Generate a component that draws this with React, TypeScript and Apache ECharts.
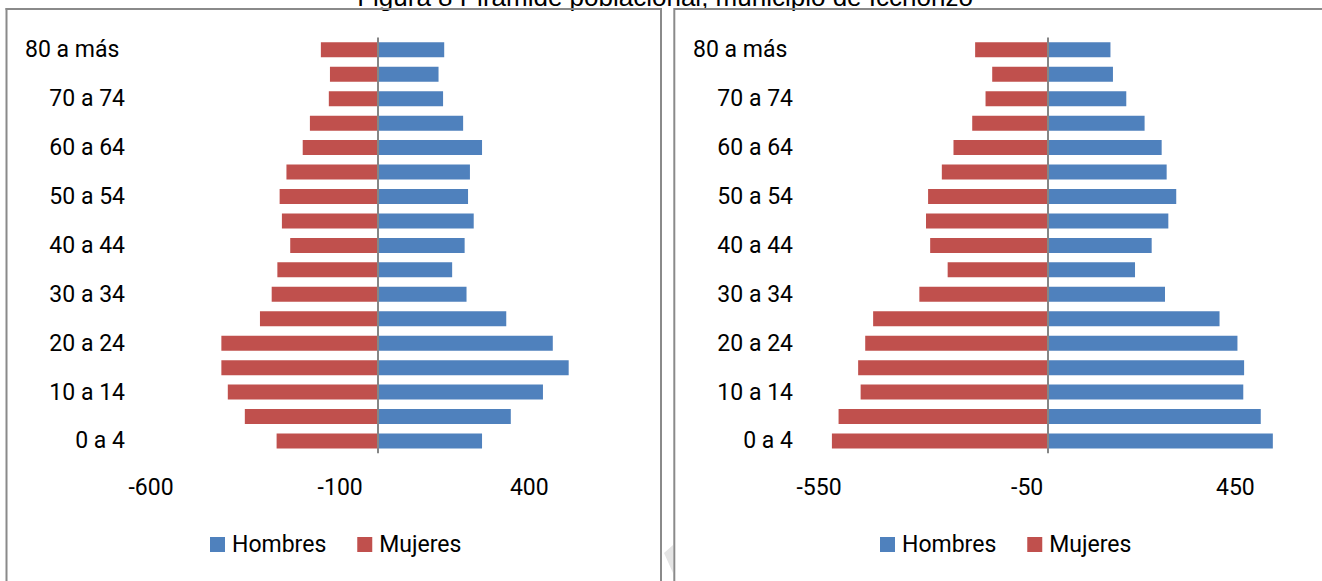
import React, { useEffect, useRef } from "react";
import * as echarts from "echarts";

const categories = [
  "0 a 4", "5 a 9", "10 a 14", "15 a 19", "20 a 24", "25 a 29", "30 a 34", "35 a 39",
  "40 a 44", "45 a 49", "50 a 54", "55 a 59", "60 a 64", "65 a 69", "70 a 74", "75 a 79", "80 a más",
];

// Left pyramid
const hombresLeft = [275, 351, 436, 504, 462, 339, 234, 196, 229, 253, 238, 243, 275, 225, 172, 160, 175];
const mujeresLeft = [268, 352, 397, 414, 414, 312, 281, 266, 232, 254, 260, 242, 199, 180, 130, 127, 151];

// Right pyramid
const hombresRight = [540, 511, 469, 471, 455, 412, 281, 209, 249, 289, 308, 285, 273, 232, 188, 156, 150];
const mujeresRight = [519, 503, 450, 456, 439, 420, 309, 241, 283, 293, 288, 255, 227, 182, 150, 134, 175];

const leftTicks = [-600, -100, 400];
const rightTicks = [-550, -50, 450];

const TITLE = "Figura 8 Pirámide poblacional, municipio de Icchonzo";

const BLUE = "#4F81BD";
const RED = "#C0504D";
const FONT = "Roboto";
const FS = 23;

export default function App() {
  const ref = useRef<HTMLDivElement>(null);

  useEffect(() => {
    document.body.style.margin = "0";
    if (!ref.current) return;
    const chart = echarts.init(ref.current, null, { renderer: "svg" });

    const catLabel = {
      fontFamily: FONT,
      fontSize: FS,
      color: "#000",
      margin: 26,
      interval: 1,
      formatter: (v: string) => (v === "80 a más" ? v + "\u00a0" : v),
    };

    const valueAxis = (min: number, max: number, interval: number, ticks: number[], gridIndex: number) => ({
      type: "value",
      gridIndex,
      min,
      max,
      interval,
      axisLine: { show: false },
      axisTick: { show: false },
      splitLine: { show: false },
      axisLabel: {
        fontFamily: FONT,
        fontSize: FS,
        color: "#000",
        margin: 23,
        formatter: (v: number) => (ticks.includes(v) ? String(v) : ""),
      },
    });

    const zeroLine = {
      silent: true,
      symbol: "none",
      label: { show: false },
      lineStyle: { color: "#868686", width: 2, type: "solid" },
      data: [{ xAxis: 0 }],
    };

    const barCommon = {
      type: "bar",
      barWidth: 15,
      barGap: "-100%",
    };

    const legendCommon = {
      icon: "rect",
      itemWidth: 15,
      itemHeight: 15,
      itemGap: 31,
      top: 528,
      data: ["Hombres", "Mujeres"],
      textStyle: { fontFamily: FONT, fontSize: FS, color: "#000", padding: [0, 0, 0, 2] },
    };

    chart.setOption({
      animation: false,
      backgroundColor: "#fff",
      grid: [
        { left: 151, width: 454, top: 37.6, height: 415.6 },
        { left: 819, width: 458, top: 37.6, height: 415.6 },
      ],
      xAxis: [
        valueAxis(-600, 600, 100, leftTicks, 0),
        valueAxis(-550, 550, 50, rightTicks, 1),
      ],
      yAxis: [
        {
          type: "category",
          gridIndex: 0,
          data: categories,
          axisLine: { show: false },
          axisTick: { show: false },
          axisLabel: catLabel,
        },
        {
          type: "category",
          gridIndex: 1,
          data: categories,
          axisLine: { show: false },
          axisTick: { show: false },
          axisLabel: catLabel,
        },
      ],
      legend: [
        { ...legendCommon, left: 205 },
        { ...legendCommon, left: 875 },
      ],
      series: [
        {
          ...barCommon,
          name: "Hombres",
          xAxisIndex: 0,
          yAxisIndex: 0,
          itemStyle: { color: BLUE },
          data: hombresLeft,
          markLine: zeroLine,
        },
        {
          ...barCommon,
          name: "Mujeres",
          xAxisIndex: 0,
          yAxisIndex: 0,
          itemStyle: { color: RED },
          data: mujeresLeft.map((v) => -v),
        },
        {
          ...barCommon,
          name: "Hombres",
          xAxisIndex: 1,
          yAxisIndex: 1,
          itemStyle: { color: BLUE },
          data: hombresRight,
          markLine: zeroLine,
        },
        {
          ...barCommon,
          name: "Mujeres",
          xAxisIndex: 1,
          yAxisIndex: 1,
          itemStyle: { color: RED },
          data: mujeresRight.map((v) => -v),
        },
      ],
      graphic: [
        {
          type: "text",
          x: 665,
          y: -3.5,
          style: {
            text: TITLE,
            fontFamily: "Liberation Sans",
            fontSize: 26,
            fill: "#000",
            textAlign: "center",
            textVerticalAlign: "middle",
          },
        },
        { type: "line", shape: { x1: 5.5, y1: 9, x2: 661, y2: 9 }, style: { stroke: "#8a8a8a", lineWidth: 2 } },
        { type: "line", shape: { x1: 6.5, y1: 8, x2: 6.5, y2: 581 }, style: { stroke: "#8a8a8a", lineWidth: 2 } },
        { type: "line", shape: { x1: 661, y1: 8, x2: 661, y2: 581 }, style: { stroke: "#8a8a8a", lineWidth: 2 } },
        { type: "line", shape: { x1: 674.3, y1: 9, x2: 1322, y2: 9 }, style: { stroke: "#8a8a8a", lineWidth: 2 } },
        { type: "line", shape: { x1: 674.3, y1: 8, x2: 674.3, y2: 581 }, style: { stroke: "#8a8a8a", lineWidth: 2 } },
        {
          type: "polygon",
          shape: { points: [[673, 545], [664, 553], [673, 573]] },
          style: { fill: "#e4e4e4" },
        },
      ],
    });

    return () => chart.dispose();
  }, []);

  return <div ref={ref} style={{ width: 1322, height: 581 }} />;
}
